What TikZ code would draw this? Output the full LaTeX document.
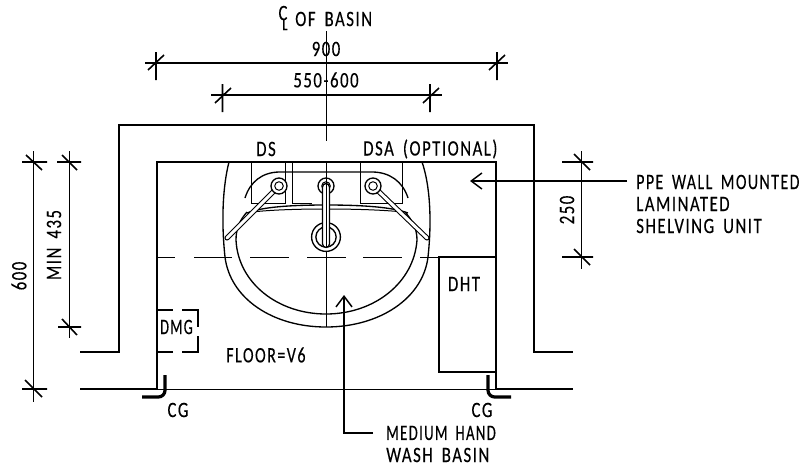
\documentclass[tikz,border=0pt]{standalone}
\usepackage{fontspec}
\setmainfont{Carlito}[LetterSpace=7,FakeStretch=0.76,WordSpace=1.7,FakeBold=0.25]
\usetikzlibrary{arrows.meta}
\tikzset{
 x=0.75pt,y=-0.75pt,
 wall/.style={line width=1.5pt,line cap=butt},
 thin line/.style={line width=0.75pt},
 basin/.style={line width=1pt},
 dim/.style={line width=1.2pt},
 lab/.style={inner sep=0pt,font=\fontsize{16.5}{16.5}\selectfont,text=black},
 lableft/.style={lab,anchor=west},
 leader/.style={line width=1.2pt,-{Straight Barb[length=8pt,width=12pt,line width=1.1pt]}},
 cg/.style={line width=2.4pt,rounded corners=5pt},
 tapbar/.style={double=white,double distance=2.2pt,line width=0.8pt,line cap=round,draw=black},
}
\begin{document}
\begin{tikzpicture}
\useasboundingbox (0,0) rectangle (805,471);
% walls
\draw[wall] (80,352) -- (119,352) -- (119,125) -- (534,125) -- (534,352) -- (573,352);
\draw[wall] (157,389) -- (157,162) -- (496,162) -- (496,389);
\draw[wall] (80,389) -- (157,389);
\draw[wall] (496,389) -- (573,389);
\draw[thin line] (157,389) -- (496,389);
% dashed line
\draw[thin line] (157,257) -- (175,257) (194,257) -- (232,257) (250,257) -- (289,257) (307,257) -- (346,257) (363,257) -- (402,257) (420,257) -- (496,257);
% centre line
\draw[thin line] (326,31) -- (326,141);
\draw[thin line] (326,162) -- (326,327);
% basin outer
\draw[basin] (229,162) .. controls (223,185) and (221,220) .. (225,257)
  .. controls (230,298) and (272,327) .. (326,327)
  .. controls (380,327) and (423,298) .. (428,257)
  .. controls (432,220) and (430,185) .. (422,162);
% bowl
\draw[basin] (247,212) .. controls (240,220) and (236,228) .. (236,240)
  .. controls (238,283) and (278,314) .. (326,314)
  .. controls (374,314) and (414,283) .. (417,240)
  .. controls (417,228) and (412,220) .. (405,212);
% rim
\draw[basin] (247,213) .. controls (262,207) and (290,205) .. (326,205) .. controls (362,205) and (392,207) .. (408,213);
\draw[thin line] (252,212) .. controls (270,210) and (296,209) .. (326,209) .. controls (356,209) and (384,210) .. (403,212);
% back arc
\draw[basin] (245,198) .. controls (250,182) and (262,172) .. (280,172) -- (372,172) .. controls (390,172) and (403,182) .. (408,198);
% back rectangles
\draw[thin line] (251,162) -- (251,203) -- (285,203) -- (285,162);
\draw[thin line] (292,162) -- (292,203) -- (312,203);
\draw[thin line] (402,162) -- (402,203) -- (360,203) -- (360,162);
% taps
\draw[tapbar] (227,238) -- (279,186);
\draw[tapbar] (427,238) -- (373,186);
\foreach \n/\cx in {tl/279,tm/326,tr/373}{
 \filldraw[basin,fill=white] (\cx,186) circle[radius=6pt];
 \draw[thin line] (\cx,186) circle[radius=3.2pt];
}
% waste and spout
\filldraw[basin,fill=white] (326,237) circle[radius=10.8pt];
\draw[basin] (326,237) circle[radius=7.6pt];
\draw[basin,fill=white] (322.5,244) -- (322.5,187) arc[start angle=180,end angle=0,radius=2.6pt] -- (329.5,244) arc[start angle=0,end angle=-180,radius=2.6pt] -- cycle;
\draw[thin line] (326,178) -- (326,247);
% DHT
\draw[basin] (439,257) rectangle (496,372);
% DMG
\draw[basin] (157,310) -- (173,310) (182,310) -- (198,310) -- (198,327) (198,336) -- (198,352) -- (182,352) (173,352) -- (157,352);
% CG
\draw[cg] (165,375) -- (165,397) -- (142,397);
\draw[cg] (488,375) -- (488,397) -- (511,397);
% dimensions
\draw[dim] (145,63) -- (508,63);
\draw[dim] (156,52) -- (156,80) (148,70) -- (164,55);
\draw[dim] (497,52) -- (497,80) (489,70) -- (505,55);
\draw[dim] (211,95) -- (442,95);
\draw[dim] (222.5,84) -- (222.5,112) (215,103) -- (231,88);
\draw[dim] (430,84) -- (430,112) (423,103) -- (439,88);
\draw[dim] (33.5,151) -- (33.5,402);
\draw[dim] (22,162) -- (47,162) (26,155) -- (42,170);
\draw[dim] (22,389) -- (47,389) (25,380) -- (42,397);
\draw[dim] (69.5,151) -- (69.5,338);
\draw[dim] (57,162) -- (81,162) (62,155) -- (77,170);
\draw[dim] (58,327) -- (81,327) (62,319) -- (77,335);
\draw[dim] (581.5,151) -- (581.5,269);
\draw[dim] (562,162) -- (593,162) (574,154) -- (590,170);
\draw[dim] (562,257) -- (593,257) (574,249) -- (590,265);
% leaders
\coordinate (ppeEnd) at (627,181);
\coordinate (ppeTip) at (470,181);
\draw[leader] (ppeEnd) -- (ppeTip);
\coordinate (mhbEnd) at (373,433);
\coordinate (mhbBend) at (344,433);
\coordinate (mhbTip) at (344,295);
\draw[leader] (mhbEnd) -- (mhbBend) -- (mhbTip);
% texts
\node[lab] (cl) at (283,18) {C\llap{\raisebox{-7.5pt}{\fontsize{12}{12}\selectfont L}}};
\node[lableft] (ofb) at (295,19) {OF BASIN};
\node[lab] (d900) at (326,49) {900};
\node[lab] (d550) at (326,80) {550-600};
\node[lab] (ds) at (266,149) {DS};
\node[lableft] (dsa) at (363,149) {DSA (OPTIONAL)};
\node[lab,rotate=90] (d600) at (19,276) {600};
\node[lab,rotate=90] (min) at (54,245) {MIN 435};
\node[lab,rotate=90] (d250) at (567,210) {250};
\node[lableft,xscale=0.95] (ppe1) at (636,182) {PPE WALL MOUNTED};
\node[lableft] (ppe2) at (636,204) {LAMINATED};
\node[lableft] (ppe3) at (636,226) {SHELVING UNIT};
\node[lab] (dht) at (464,284) {DHT};
\node[lab,xscale=0.85] (dmg) at (176.5,327) {DMG};
\node[lableft,xscale=0.96] (floor) at (226,355) {FLOOR=V6};
\node[lab] (cg1) at (178,410) {CG};
\node[lab] (cg2) at (482,410) {CG};
\node[lableft,xscale=0.88] (m1) at (386,433) {MEDIUM HAND};
\node[lableft] (m2) at (386,455) {WASH BASIN};
\end{tikzpicture}
\end{document}
